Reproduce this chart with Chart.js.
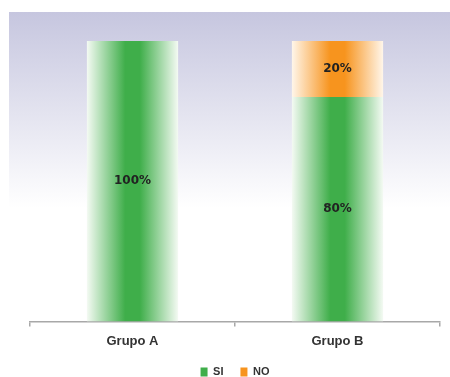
<!DOCTYPE html>
<html>
<head>
<meta charset="utf-8">
<script src="https://cdn.jsdelivr.net/npm/chart.js@4/dist/chart.umd.min.js"></script>
<style>
    html, body { margin: 0; padding: 0; background: #fff; }
    #wrap { width: 450px; height: 377px; }
</style>
</head>
<body>
<div id="wrap"><canvas id="groupChart" width="450" height="377"></canvas></div>
<script>
const categories = ['Grupo A', 'Grupo B']
const siValues = [100, 80]
const noValues = [0, 20]
const seriesNames = ['SI', 'NO']

const GREEN = '#3fae4a'
const ORANGE = '#f7941e'

// horizontal fade: pale edges, strong colour in the middle of each bar
const barGradient = (color, edge) => (ctx) => {
    const { chart, dataIndex } = ctx
    const xScale = chart.scales.x
    if (!chart.chartArea || !xScale) return color
    const center = xScale.getPixelForValue(dataIndex)
    const half = (xScale.width / categories.length) * 0.445 / 2
    const g = chart.ctx.createLinearGradient(center - half, 0, center + half, 0)
    g.addColorStop(0, edge)
    g.addColorStop(0.42, color)
    g.addColorStop(0.58, color)
    g.addColorStop(1, edge)
    return g
}

const backdrop = {
    id: 'backdrop',
    beforeDraw(chart) {
        const { ctx } = chart
        const g = ctx.createLinearGradient(0, 12, 0, 208)
        g.addColorStop(0, '#c6c6df')
        g.addColorStop(1, '#ffffff')
        ctx.save()
        ctx.fillStyle = g
        ctx.fillRect(9, 12, 441, 196)
        ctx.restore()
    }
}

const valueLabels = {
    id: 'valueLabels',
    afterDatasetsDraw(chart) {
        const { ctx } = chart
        ctx.save()
        ctx.font = 'bold 12px "DejaVu Sans"'
        ctx.fillStyle = '#222'
        ctx.textAlign = 'center'
        ctx.textBaseline = 'middle'
        chart.data.datasets.forEach((ds, i) => {
            chart.getDatasetMeta(i).data.forEach((bar, j) => {
                if (!ds.data[j]) return
                ctx.fillText(ds.data[j] + '%', bar.x, (bar.y + bar.base) / 2)
            })
        })
        ctx.restore()
    }
}

new Chart(document.getElementById('groupChart'), {
    type: 'bar',
    data: {
        labels: categories,
        datasets: [
            {
                label: seriesNames[0],
                data: siValues,
                backgroundColor: barGradient(GREEN, '#f4faf3'),
                legendColor: GREEN
            },
            {
                label: seriesNames[1],
                data: noValues,
                backgroundColor: barGradient(ORANGE, '#fff6ea'),
                legendColor: ORANGE
            }
        ]
    },
    options: {
        responsive: false,
        animation: false,
        categoryPercentage: 1,
        barPercentage: 0.445,
        layout: {
            padding: { top: 41, left: 30, right: 10, bottom: -10.5 }
        },
        scales: {
            x: {
                stacked: true,
                offset: true,
                grid: {
                    offset: true,
                    drawOnChartArea: false,
                    drawTicks: true,
                    tickLength: 5,
                    color: '#a8a8a8',
                    lineWidth: 1.5
                },
                border: { color: '#a8a8a8', width: 1.5 },
                ticks: {
                    padding: 7,
                    color: '#333',
                    font: { family: '"Liberation Sans"', size: 13, weight: 'bold' }
                },
                afterFit(scale) {
                    scale.height = 28
                }
            },
            y: {
                stacked: true,
                display: false,
                min: 0,
                max: 100
            }
        },
        plugins: {
            tooltip: { enabled: false },
            legend: {
                position: 'bottom',
                labels: {
                    boxWidth: 7,
                    boxHeight: 9,
                    padding: 17,
                    color: '#333',
                    font: { family: '"Liberation Sans"', size: 11, weight: 'bold' },
                    generateLabels(chart) {
                        return chart.data.datasets.map((ds, i) => ({
                            text: ds.label,
                            fillStyle: ds.legendColor,
                            strokeStyle: ds.legendColor,
                            lineWidth: 0,
                            fontColor: '#333',
                            datasetIndex: i
                        }))
                    }
                }
            }
        }
    },
    plugins: [backdrop, valueLabels]
})
</script>
</body>
</html>
